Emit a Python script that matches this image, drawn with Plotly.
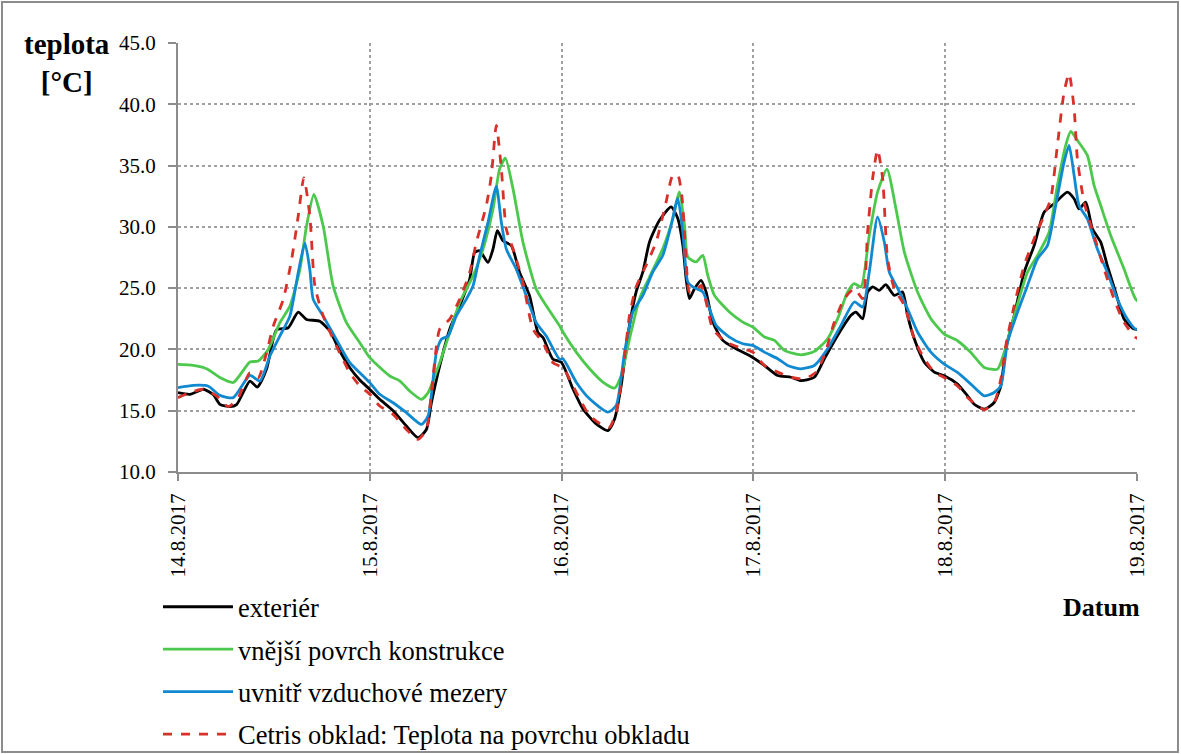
import pandas as pd
import plotly.graph_objects as go

# hours since 14.8.2017 00:00 and temperatures [°C]
ext_h = [0, 1.5, 3.17, 4.42, 5.25, 6.5, 7.33, 9, 9.92, 11.08, 12.33, 13.79, 15.04, 16.08, 17.75, 19, 20.25, 21.5, 22.75,
         24, 25.25, 26.92, 28.58, 30.04, 31.08, 31.71, 32.75, 34, 35.25, 36.5, 37.13, 37.75, 38.79, 39.42, 39.96, 40.67, 41.71, 42.75, 44, 45.04, 45.67, 46.92,
         47.96, 49.42, 50.67, 52.33, 53.79, 54.63, 55.46, 56.29, 57.33, 58.17, 59, 60.25, 61.71, 62.54, 63.17, 63.58, 64, 64.63, 65.46, 66.08, 66.92, 68.17, 69.83, 71.5,
         73.38, 75.04, 76.71, 77.96, 79.63, 80.88, 82.54, 84.21, 84.83, 85.67, 86.29, 86.92, 87.75, 88.58, 89.63, 90.67, 91.29, 92.13, 93.38, 94.63,
         95.88, 97.54, 98.79, 99.63, 100.88, 102.13, 102.96, 103.58, 104.63, 105.88, 107.13, 108.38, 109.63, 111.29, 112.13, 112.75, 113.58, 114.42, 115.46, 116.29, 117.33, 118.38, 119.63, 120.88]
ext_v = [16.48, 16.34, 16.75, 16.3, 15.52, 15.33, 15.5, 17.42, 16.93, 18.4, 21.6, 21.77, 23.05, 22.45, 22.3, 21.5, 19.87, 18.5, 17.5,
         16.74, 15.93, 15.0, 13.75, 12.8, 13.47, 15.65, 18.65, 21.65, 23.56, 25.74, 27.92, 28.05, 27.1, 28.2, 29.69, 28.87, 28.46, 26.28, 24.37, 21.38, 20.97, 19.2,
         18.96, 16.78, 15.15, 13.92, 13.38, 14.33, 17.06, 21.14, 24.69, 26.32, 28.77, 30.54, 31.63, 30.68, 28.5, 25.78, 24.14, 24.96, 25.64, 24.69, 22.23, 20.74, 20.05, 19.5,
         18.69, 17.87, 17.73, 17.46, 17.73, 19.24, 21.14, 22.78, 23.05, 22.5, 24.69, 25.1, 24.82, 25.28, 24.41, 24.69, 22.78, 20.87, 18.96, 18.15,
         17.85, 17.17, 16.21, 15.53, 15.12, 15.67, 17.03, 20.03, 22.75, 26.29, 28.47, 31.2, 31.88, 32.83, 32.29, 31.47, 32.02, 29.84, 28.75, 26.84, 24.66, 22.48, 21.66, 21.66]

surf_h = [0, 1.92, 3.58, 5.25, 6.92, 9, 10.04, 11.29, 12.75, 14, 15.25, 16.08, 17, 18.17, 19.42, 21.08, 22.75,
          24, 26.5, 27.75, 29, 30.46, 31.29, 32.75, 34, 35.25, 36.92, 38.17, 39.42, 40.25, 40.96, 41.92, 43.17, 44.83, 46.08, 47.75,
          48.17, 49.83, 51.5, 53.17, 54.63, 55.46, 56.5, 57.75, 59, 60.67, 61.92, 62.75, 63.38, 63.79, 64.83, 65.67, 66.29, 67.13, 69, 70.67,
          71.92, 73.38, 74.63, 75.88, 77.96, 79.63, 81.29, 82.54, 83.79, 84.63, 85.46, 86.5, 87.54, 88.71, 89.83, 90.88, 92.54, 94.21,
          95.88, 97.54, 99.21, 100.88, 102.54, 103.38, 104.63, 106.29, 107.54, 109, 110.04, 111.08, 111.71, 112.54, 113.79, 114.63, 115.46, 116.71, 118.38, 119.83, 120.88]
surf_v = [18.78, 18.7, 18.43, 17.7, 17.3, 18.97, 19.05, 20.0, 22.18, 23.53, 26.53, 30.05, 32.64, 30.05, 25.16, 22.18, 20.55,
          19.33, 17.83, 17.43, 16.6, 15.93, 16.47, 18.92, 21.38, 23.83, 26.0, 28.19, 31.46, 34.73, 35.6, 33.1, 28.73, 24.92, 23.56, 21.92,
          21.42, 19.78, 18.42, 17.33, 16.84, 17.87, 20.87, 24.14, 25.91, 28.23, 30.68, 32.86, 30.14, 27.55, 27.14, 27.68, 26.05, 24.41, 23.05, 22.23,
          21.83, 21.01, 20.74, 19.92, 19.56, 19.84, 20.87, 22.51, 24.69, 25.37, 25.1, 29.32, 32.86, 34.71, 31.5, 27.96, 24.69, 22.51,
          21.25, 20.71, 19.75, 18.53, 18.39, 19.75, 22.75, 26.29, 27.66, 29.56, 33.38, 36.65, 37.79, 37.06, 35.83, 33.38, 31.74, 29.29, 26.57, 24.11, 23.57]

gap_h = [0, 1.92, 3.79, 5.25, 6.92, 9, 10.25, 11.5, 12.75, 14, 15.04, 15.88, 16.5, 16.92, 18.17, 19.83, 21.5, 22.75,
         24, 25.25, 26.92, 28.58, 30.46, 31.29, 32.33, 32.96, 33.79, 34.83, 36.08, 36.92, 37.75, 38.79, 39.83, 40.46, 41.08, 42.33, 43.58, 44.83, 46.08, 47.75,
         48.17, 49.83, 51.5, 53.79, 54.83, 55.88, 56.92, 58.17, 59.42, 60.67, 61.71, 62.54, 63.17, 63.79, 64.42, 65.67, 66.5, 67.33, 69, 70.67,
         71.92, 73.38, 75.04, 76.29, 77.96, 79.63, 81.29, 82.96, 84.63, 85.67, 86.5, 87.54, 88.38, 89, 90.04, 91.29, 92.54, 94.21,
         95.88, 97.54, 99.21, 100.88, 102.13, 102.96, 103.79, 105.04, 106.29, 107.54, 108.79, 109.83, 110.88, 111.5, 112.13, 112.75, 113.79, 115.04, 116.29, 117.54, 118.79, 119.83, 120.88]
gap_v = [16.88, 17.07, 17.0, 16.25, 16.07, 17.88, 17.42, 19.46, 21.1, 22.72, 26.25, 28.7, 26.5, 24.08, 22.72, 20.8, 18.92, 18.1,
         17.29, 16.34, 15.65, 14.84, 13.88, 14.56, 19.74, 20.83, 21.1, 22.74, 24.1, 25.19, 27.64, 30.37, 33.31, 30.37, 28.19, 26.55, 24.37, 22.19, 21.1, 19.2,
         19.24, 17.33, 15.97, 14.88, 15.42, 19.78, 23.05, 24.41, 26.32, 27.68, 30.14, 32.32, 29.59, 25.5, 25.1, 24.69, 23.32, 21.96, 21.01, 20.46,
         20.33, 19.78, 19.24, 18.69, 18.42, 18.69, 20.05, 21.96, 23.87, 23.46, 26.32, 30.82, 28.77, 26.32, 25.0, 23.32, 21.42, 19.78,
         18.8, 18.12, 17.17, 16.21, 16.49, 17.03, 20.57, 23.02, 25.2, 27.38, 28.47, 31.74, 35.29, 36.65, 34.2, 31.74, 30.65, 28.2, 26.29, 24.11, 22.48, 21.66, 21.93]

cetris_h = [0, 1.5, 3.17, 4.83, 6.29, 7.54, 9, 10.04, 11.08, 11.92, 13.17, 14.21, 15.04, 15.75, 16.5, 17.13, 18.17, 19.83, 21.5, 22.75,
            24, 25.25, 26.92, 28.58, 30.04, 31.08, 31.92, 32.75, 34, 35.25, 36.5, 37.33, 38.58, 39.21, 39.83, 40.46, 41.08, 41.92, 43.17, 44.42, 45.67, 46.92,
            48.17, 49.83, 51.5, 53.17, 54, 54.83, 55.67, 56.5, 57.33, 58.58, 59.83, 61.08, 61.92, 62.54, 63.08, 63.58, 64, 64.83, 65.46, 66.08, 66.92, 68.58, 70.67,
            71.92, 73.38, 75.04, 76.71, 78.38, 79.83, 80.88, 82.13, 83.38, 84.63, 85.67, 86.29, 86.92, 87.54, 88.17, 88.79, 89.63, 90.88, 92.13, 93.38, 94.63,
            95.88, 97.54, 98.79, 100.04, 100.88, 102.13, 102.96, 103.58, 104.63, 105.88, 107.13, 108.38, 109.21, 110.04, 110.88, 111.5, 112.13, 112.54, 113.38, 114.63, 115.88, 117.13, 118.38, 119.83, 120.88]
cetris_v = [16.07, 16.48, 16.75, 16.2, 15.33, 16.07, 18.1, 17.7, 19.73, 21.9, 24.08, 27.3, 30.87, 34.0, 30.87, 25.16, 22.72, 20.27, 18.1, 17.02,
            16.34, 15.38, 14.7, 13.47, 12.66, 13.47, 17.83, 21.65, 22.47, 24.1, 26.28, 28.73, 31.73, 34.18, 38.27, 34.73, 29.82, 28.19, 25.46, 21.65, 20.56, 18.92,
            18.5, 16.51, 14.6, 13.79, 13.65, 14.88, 18.15, 22.78, 25.1, 26.87, 28.77, 32.04, 34.22, 34.22, 32.32, 27.41, 24.69, 24.82, 25.23, 23.87, 21.69, 20.6, 20.05,
            19.78, 18.69, 18.15, 17.73, 17.6, 18.15, 19.51, 22.23, 24.14, 24.96, 24.14, 29.59, 33.95, 36.3, 33.95, 27.41, 24.96, 23.6, 20.87, 19.24, 18.15,
            17.71, 17.03, 16.08, 15.4, 15.07, 15.67, 17.58, 20.3, 23.57, 26.84, 29.02, 30.93, 32.29, 36.65, 41.0, 42.5, 39.65, 35.56, 32.02, 29.29, 26.57, 24.11, 22.21, 20.98, 20.71]

series_names = ["exteri\u00e9r", "vn\u011bj\u0161\u00ed povrch konstrukce", "uvnit\u0159 vzduchov\u00e9 mezery",
                "Cetris obklad: Teplota na povrchu obkladu"]
y_ticks = [10, 15, 20, 25, 30, 35, 40, 45]

start = pd.Timestamp("2017-08-14")


def to_time(hours):
    return [start + pd.Timedelta(hours=h) for h in hours]


styles = [
    dict(color="#000000", dash="solid"),
    dict(color="#4CC94C", dash="solid"),
    dict(color="#1089D0", dash="solid"),
    dict(color="#D7312A", dash="dash"),
]
data = [(ext_h, ext_v), (surf_h, surf_v), (gap_h, gap_v), (cetris_h, cetris_v)]

fig = go.Figure()
for i, ((hh, vv), name, st) in enumerate(zip(data, series_names, styles)):
    fig.add_trace(go.Scatter(
        x=to_time(hh), y=vv, mode="lines", name=name, legendgroup=f"g{i}",
        line=dict(color=st["color"], width=2.8, dash=st["dash"], shape="spline", smoothing=0.6),
    ))

serif = "Liberation Serif, Times New Roman, serif"
W, H = 1181, 754
L, R, T, B = 178, 44, 43, 282
pw, ph = W - L - R, H - T - B


def px(x):
    return (x - L) / pw


def py(y):
    return (H - B - y) / ph


fig.update_layout(
    template="none",
    width=W, height=H,
    margin=dict(l=L, r=R, t=T, b=B, autoexpand=False),
    paper_bgcolor="white", plot_bgcolor="white",
    font=dict(family=serif, color="black"),
    showlegend=True,
    legend=dict(xref="container", yref="container", x=158 / W, y=1 - 583 / H,
                xanchor="left", yanchor="top",
                font=dict(family=serif, size=26.5, color="black"),
                itemwidth=70, tracegroupgap=5, bgcolor="rgba(0,0,0,0)", borderwidth=0),
    xaxis=dict(
        type="date", range=[start, start + pd.Timedelta(days=5)],
        dtick=86400000, tick0=start, tickformat="%-d.%-m.%Y", tickangle=-90,
        showgrid=True, gridcolor="#A0A0A0", griddash="dot", gridwidth=1.5,
        showline=True, linecolor="#8C8C8C", linewidth=2,
        ticks="outside", ticklen=7, tickcolor="#8C8C8C", tickwidth=1.5,
        ticklabelstandoff=4,
        tickfont=dict(family=serif, size=21, color="black"),
        zeroline=False, automargin=False,
    ),
    yaxis=dict(
        range=[10, 45], tickvals=y_ticks, tickformat=".1f",
        showgrid=True, gridcolor="#A0A0A0", griddash="dot", gridwidth=1.5,
        showline=True, linecolor="#8C8C8C", linewidth=2,
        ticks="outside", ticklen=8, tickcolor="#8C8C8C", tickwidth=1.5,
        ticklabelstandoff=8,
        tickfont=dict(family=serif, size=21, color="black"),
        zeroline=False, automargin=False,
    ),
    annotations=[
        dict(text="<b>teplota</b><br><b>[\u00b0C]</b>", xref="paper", yref="paper",
             x=px(67), y=py(63), xanchor="center", yanchor="middle", showarrow=False,
             font=dict(family=serif, size=29, color="black")),
        dict(text="<b>Datum</b>", xref="paper", yref="paper",
             x=px(1101), y=py(607), xanchor="center", yanchor="middle", showarrow=False,
             font=dict(family=serif, size=26, color="black")),
    ],
    shapes=[
        dict(type="rect", xref="paper", yref="paper",
             x0=px(2), x1=px(1178), y0=py(752), y1=py(2),
             line=dict(color="#8C8C8C", width=2), fillcolor="rgba(0,0,0,0)", layer="below"),
    ],
)

fig.write_html("out.html")
